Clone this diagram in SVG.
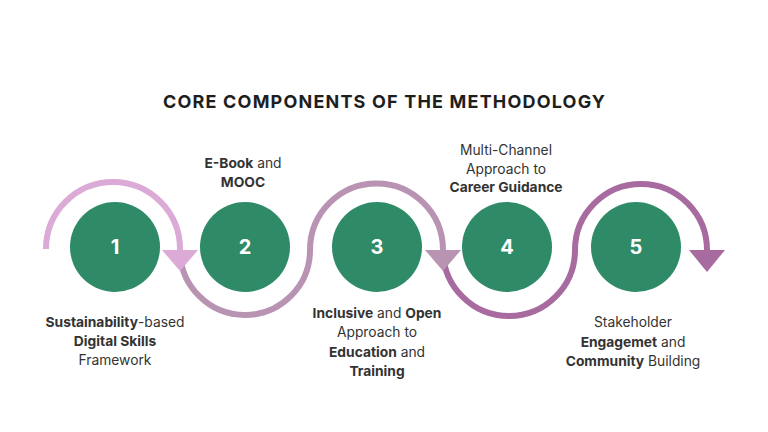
<svg xmlns="http://www.w3.org/2000/svg" width="768" height="432" viewBox="0 0 768 432">
<style>
.title{font-family:Inter,"Liberation Sans",sans-serif;font-weight:700;font-size:18px;fill:#1e1e1e;text-anchor:middle}
.lbl{font-family:Inter,"Liberation Sans",sans-serif;font-size:13.8px;fill:#333333;text-anchor:middle}
.b{font-weight:700}
.num{font-family:Inter,"Liberation Sans",sans-serif;font-weight:700;font-size:20px;fill:#ffffff;text-anchor:middle}
.node{fill:#2f8a68}
.arc{fill:none;stroke-width:6}
</style>
<rect width="768" height="432" fill="#ffffff"/>
<text class="title" x="384" y="108" textLength="442" lengthAdjust="spacing">CORE COMPONENTS OF THE METHODOLOGY</text>
<g id="connectors">
  <g id="arrow-c">
    <path class="arc" stroke="#a86b9f" d="M 443 250 A 66 66 0 0 0 575 250 A 66 66 0 0 1 707 250 L 707 256"/>
    <polygon fill="#a86b9f" points="689,250 725,250 707,272"/>
  </g>
  <g id="arrow-b">
    <path class="arc" stroke="#b893b2" d="M 180 250 A 65 65 0 0 0 310 250 A 66.5 66.5 0 0 1 443 250 L 443 256"/>
    <polygon fill="#b893b2" points="425,250 461,250 443,271"/>
  </g>
  <g id="arrow-a">
    <path class="arc" stroke="#dcaad6" d="M 46 249 A 67 67 0 0 1 180 249 L 180 256"/>
    <polygon fill="#dcaad6" points="162,250 198,250 180,271"/>
  </g>
</g>
<g id="node1">
  <circle class="node" cx="115" cy="247" r="45"/>
  <text class="num" x="115" y="254">1</text>
  <text class="lbl" x="115" y="327"><tspan class="b">Sustainability</tspan>-based</text>
  <text class="lbl b" x="115" y="346">Digital Skills</text>
  <text class="lbl" x="115" y="365">Framework</text>
</g>
<g id="node2">
  <circle class="node" cx="245" cy="247" r="45"/>
  <text class="num" x="245" y="254">2</text>
  <text class="lbl" x="243" y="168"><tspan class="b">E-Book</tspan> and</text>
  <text class="lbl b" x="243" y="187">MOOC</text>
</g>
<g id="node3">
  <circle class="node" cx="377" cy="247" r="45"/>
  <text class="num" x="377" y="254">3</text>
  <text class="lbl" x="377" y="318"><tspan class="b">Inclusive</tspan> and <tspan class="b">Open</tspan></text>
  <text class="lbl" x="377" y="337">Approach to</text>
  <text class="lbl" x="377" y="357"><tspan class="b">Education</tspan> and</text>
  <text class="lbl b" x="377" y="376">Training</text>
</g>
<g id="node4">
  <circle class="node" cx="507" cy="247" r="45"/>
  <text class="num" x="507" y="254">4</text>
  <text class="lbl" x="506" y="155">Multi-Channel</text>
  <text class="lbl" x="506" y="174">Approach to</text>
  <text class="lbl b" x="506" y="192">Career Guidance</text>
</g>
<g id="node5">
  <circle class="node" cx="636" cy="247" r="45"/>
  <text class="num" x="636" y="254">5</text>
  <text class="lbl" x="633" y="327">Stakeholder</text>
  <text class="lbl" x="633" y="347"><tspan class="b">Engagemet</tspan> and</text>
  <text class="lbl" x="633" y="366"><tspan class="b">Community</tspan> Building</text>
</g>
</svg>
